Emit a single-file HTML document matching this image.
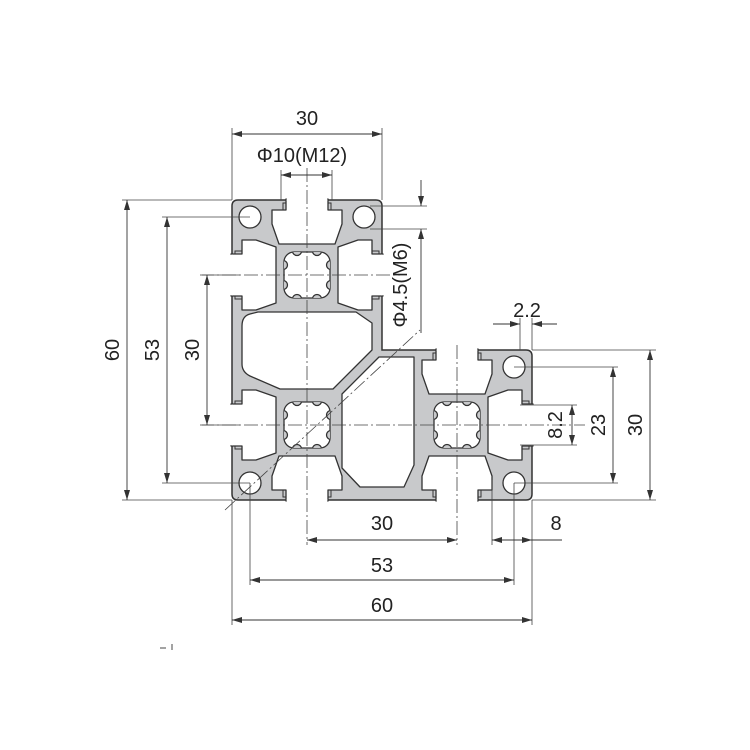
<!DOCTYPE html>
<html><head><meta charset="utf-8"><style>
html,body{margin:0;padding:0;background:#fff}
svg{display:block}
text{font-family:"Liberation Sans",Arial,sans-serif;fill:#222;font-size:20px}
</style></head><body>
<svg width="750" height="750" viewBox="0 0 750 750" xmlns="http://www.w3.org/2000/svg">
<defs>
<marker id="ae" viewBox="0 0 10 6" refX="10" refY="3" markerWidth="10" markerHeight="6" orient="auto" markerUnits="userSpaceOnUse"><path d="M0,0 L10,3 L0,6 Z" fill="#333"/></marker>
<marker id="as" viewBox="0 0 10 6" refX="0" refY="3" markerWidth="10" markerHeight="6" orient="auto" markerUnits="userSpaceOnUse"><path d="M10,0 L0,3 L10,6 Z" fill="#333"/></marker>
<clipPath id="tc"><rect x="-23" y="-23" width="46" height="46" rx="10"/></clipPath>
<g id="slot">
<path d="M-21,-1 L-21,10 L-35,10 L-35,24 L-28,44 L28,44 L35,24 L35,10 L21,10 L21,-1 Z" fill="#fff" stroke="#333" stroke-width="1.3" stroke-linejoin="round"/>
<rect x="-20.3" y="-4" width="40.6" height="4.8" fill="#fff"/>
<path d="M-21,0 L-21,3 L-24,3 L-24,10 M21,0 L21,3 L24,3 L24,10" fill="none" stroke="#333" stroke-width="1"/>
</g>
<g id="tube">
<rect x="-23" y="-23" width="46" height="46" rx="10" fill="#fff" stroke="#333" stroke-width="1.3"/>
<g fill="#c8c9cb" stroke="#333" stroke-width="1.3" clip-path="url(#tc)">
<circle cx="-10" cy="-24" r="4.5"/><circle cx="10" cy="-24" r="4.5"/>
<circle cx="-10" cy="24" r="4.5"/><circle cx="10" cy="24" r="4.5"/>
<circle cx="-24" cy="-10" r="4.5"/><circle cx="-24" cy="10" r="4.5"/>
<circle cx="24" cy="-10" r="4.5"/><circle cx="24" cy="10" r="4.5"/>
</g>
</g>
</defs>

<path d="M238,200 L376,200 Q382,200 382,206 L382,350 L526,350 Q532,350 532,356 L532,494 Q532,500 526,500 L238,500 Q232,500 232,494 L232,206 Q232,200 238,200 Z" fill="#c8c9cb" stroke="#333" stroke-width="1.5"/>

<use href="#slot" transform="translate(307,200)"/>
<use href="#slot" transform="translate(232,275) rotate(-90)"/>
<use href="#slot" transform="translate(382,275) rotate(90)"/>
<use href="#slot" transform="translate(232,425) rotate(-90)"/>
<use href="#slot" transform="translate(307,500) rotate(180)"/>
<use href="#slot" transform="translate(457,350)"/>
<use href="#slot" transform="translate(532,425) rotate(90)"/>
<use href="#slot" transform="translate(457,500) rotate(180)"/>

<path d="M242,326 Q242,316 250,314 L258,312 L356,312 L372,323 L372,350 L333,389 L280,389 L250,376 Q242,372 242,364 Z" fill="#fff" stroke="#333" stroke-width="1.3" stroke-linejoin="round"/>
<path d="M342,394 L379,357 L414,357 L414,465 L404,487 L360,487 L342,468 Z" fill="#fff" stroke="#333" stroke-width="1.3" stroke-linejoin="round"/>

<use href="#tube" transform="translate(307,275)"/>
<use href="#tube" transform="translate(307,425)"/>
<use href="#tube" transform="translate(457,425)"/>

<g fill="#fff" stroke="#333" stroke-width="1.3">
<circle cx="250" cy="217" r="11"/><circle cx="364" cy="217" r="11"/>
<circle cx="250" cy="483" r="11"/><circle cx="514" cy="367" r="11"/>
<circle cx="514" cy="483" r="11"/>
</g>

<g stroke="#444" stroke-width="0.8" fill="none" stroke-dasharray="14,3,2,3">
<line x1="200" y1="275" x2="400" y2="275"/>
<line x1="200" y1="425" x2="585" y2="425"/>
<line x1="307" y1="168" x2="307" y2="545"/>
<line x1="457" y1="345" x2="457" y2="545"/>
<line x1="225" y1="510" x2="420" y2="330"/>
</g>

<g stroke="#444" stroke-width="0.8">
<line x1="232" y1="128" x2="232" y2="200"/>
<line x1="382" y1="128" x2="382" y2="200"/>
<line x1="281" y1="170" x2="281" y2="200"/>
<line x1="332" y1="170" x2="332" y2="200"/>
<line x1="370" y1="206" x2="427" y2="206"/>
<line x1="370" y1="229" x2="427" y2="229"/>
<line x1="122" y1="200" x2="232" y2="200"/>
<line x1="122" y1="500" x2="232" y2="500"/>
<line x1="162" y1="217" x2="250" y2="217"/>
<line x1="162" y1="483" x2="250" y2="483"/>
<line x1="202" y1="275" x2="240" y2="275"/>
<line x1="202" y1="425" x2="240" y2="425"/>
<line x1="532" y1="350" x2="656" y2="350"/>
<line x1="532" y1="500" x2="656" y2="500"/>
<line x1="514" y1="367" x2="618" y2="367"/>
<line x1="514" y1="483" x2="618" y2="483"/>
<line x1="520" y1="405" x2="577" y2="405"/>
<line x1="520" y1="445" x2="577" y2="445"/>
<line x1="520" y1="318" x2="520" y2="350"/>
<line x1="532" y1="318" x2="532" y2="350"/>
<line x1="514" y1="483" x2="514" y2="585"/>
<line x1="532" y1="500" x2="532" y2="625"/>
<line x1="492" y1="480" x2="492" y2="545"/>
<line x1="250" y1="483" x2="250" y2="585"/>
<line x1="232" y1="500" x2="232" y2="625"/>
</g>

<g stroke="#333" stroke-width="0.9" fill="none">
<line x1="232" y1="134" x2="382" y2="134" marker-start="url(#as)" marker-end="url(#ae)"/>
<line x1="281" y1="175" x2="332" y2="175" marker-start="url(#as)" marker-end="url(#ae)"/>
<line x1="421" y1="180" x2="421" y2="206" marker-end="url(#ae)"/>
<line x1="421" y1="333" x2="421" y2="229" marker-end="url(#ae)"/>
<line x1="127" y1="200" x2="127" y2="500" marker-start="url(#as)" marker-end="url(#ae)"/>
<line x1="167" y1="217" x2="167" y2="483" marker-start="url(#as)" marker-end="url(#ae)"/>
<line x1="207" y1="275" x2="207" y2="425" marker-start="url(#as)" marker-end="url(#ae)"/>
<line x1="650" y1="350" x2="650" y2="500" marker-start="url(#as)" marker-end="url(#ae)"/>
<line x1="613" y1="367" x2="613" y2="483" marker-start="url(#as)" marker-end="url(#ae)"/>
<line x1="572" y1="405" x2="572" y2="445" marker-start="url(#as)" marker-end="url(#ae)"/>
<line x1="493" y1="324" x2="520" y2="324" marker-end="url(#ae)"/>
<line x1="557" y1="324" x2="532" y2="324" marker-end="url(#ae)"/>
<line x1="307" y1="540" x2="457" y2="540" marker-start="url(#as)" marker-end="url(#ae)"/>
<line x1="492" y1="540" x2="532" y2="540" marker-start="url(#as)" marker-end="url(#ae)"/>
<line x1="532" y1="540" x2="562" y2="540"/>
<line x1="250" y1="580" x2="514" y2="580" marker-start="url(#as)" marker-end="url(#ae)"/>
<line x1="232" y1="620" x2="532" y2="620" marker-start="url(#as)" marker-end="url(#ae)"/>
<line x1="160" y1="648" x2="166" y2="648"/>
<line x1="172" y1="644" x2="172" y2="650"/>
</g>

<g text-anchor="middle">
<text x="307" y="125">30</text>
<text x="302" y="162">Φ10(M12)</text>
<text x="527" y="317">2.2</text>
<text x="382" y="530">30</text>
<text x="556" y="530">8</text>
<text x="382" y="572">53</text>
<text x="382" y="612">60</text>
<text transform="translate(407,285) rotate(-90)">Φ4.5(M6)</text>
<text transform="translate(119,350) rotate(-90)">60</text>
<text transform="translate(159,350) rotate(-90)">53</text>
<text transform="translate(199,350) rotate(-90)">30</text>
<text transform="translate(562,425) rotate(-90)">8.2</text>
<text transform="translate(605,425) rotate(-90)">23</text>
<text transform="translate(642,425) rotate(-90)">30</text>
</g>
</svg>
</body></html>
